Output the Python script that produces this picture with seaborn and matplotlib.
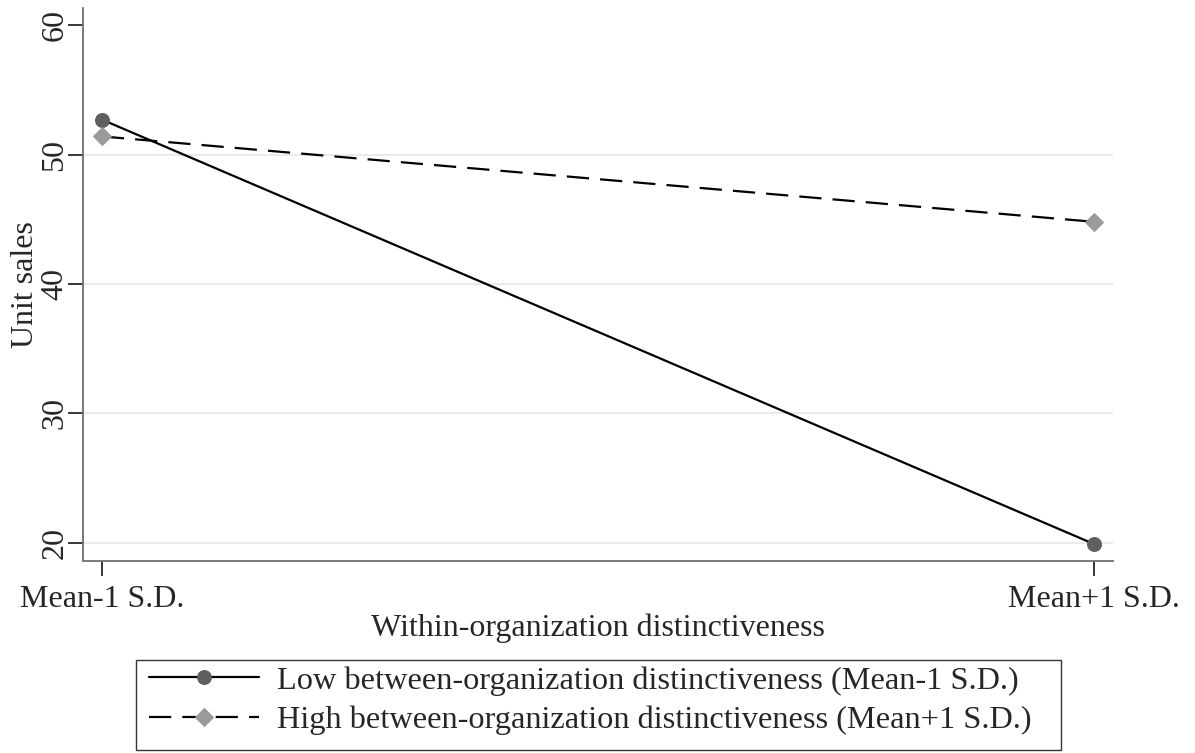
import pandas as pd
import matplotlib
matplotlib.use("Agg")
import matplotlib.pyplot as plt
from matplotlib.patches import Rectangle
import seaborn as sns

# Data
x_labels = ["Mean-1 S.D.", "Mean+1 S.D."]
x_pos = [0, 1]
low_sales = [52.7, 19.9]
high_sales = [51.4, 44.8]
low_label = "Low between-organization distinctiveness (Mean-1 S.D.)"
high_label = "High between-organization distinctiveness (Mean+1 S.D.)"

sns.set_style("white")
plt.rcParams['font.family'] = ['Liberation Serif', 'DejaVu Serif']

df_low = pd.DataFrame({'x': x_pos, 'sales': low_sales})
df_high = pd.DataFrame({'x': x_pos, 'sales': high_sales})

W, H = 1195, 753
fig = plt.figure(figsize=(W / 100, H / 100), dpi=100)
ax = fig.add_axes([0.0695, 0.255, 0.862, 0.734])

for v in [20, 30, 40, 50]:
    ax.axhline(v, color='#e6e6e6', linewidth=1.2, zorder=0)

sns.lineplot(data=df_low, x='x', y='sales', ax=ax, color='black', linewidth=1.6,
             marker='o', markersize=10, markerfacecolor='#5f5f5f',
             markeredgecolor='#5f5f5f', label=low_label, zorder=3)
sns.lineplot(data=df_high, x='x', y='sales', ax=ax, color='black', linewidth=1.6,
             linestyle=(0, (10, 5)), marker='D', markersize=9,
             markerfacecolor='#9a9a9a', markeredgecolor='#9a9a9a',
             label=high_label, zorder=3)

fs = 23
ax.set_xlim(-0.019, 1.019)
ax.set_ylim(18.6, 61.3)
ax.set_xticks(x_pos)
ax.set_xticklabels(x_labels, fontsize=fs)
ax.set_yticks([20, 30, 40, 50, 60])
ax.set_yticklabels(['20', '30', '40', '50', '60'], rotation=90, va='center', fontsize=fs)
ax.set_xlabel('Within-organization distinctiveness', fontsize=fs, labelpad=0)
ax.set_ylabel('Unit sales', fontsize=fs, labelpad=0)

for s in ['top', 'right']:
    ax.spines[s].set_visible(False)
for s in ['left', 'bottom']:
    ax.spines[s].set_color('#707070')
    ax.spines[s].set_linewidth(1.3)
ax.tick_params(axis='both', which='major', direction='out', length=11, width=1.1,
               color='black', bottom=True, left=True)
ax.tick_params(axis='x', pad=6)
ax.tick_params(axis='y', pad=-1)

ax.get_legend().remove()
handles, labels = ax.get_legend_handles_labels()
leg = fig.legend(handles, labels, loc='upper left',
                 bbox_to_anchor=(149 / W, 1 - 666 / H),
                 fontsize=23.3, frameon=False, handlelength=3.4,
                 handletextpad=0.55, borderpad=0, borderaxespad=0,
                 labelspacing=0.3)

# legend frame with Stata-like uneven padding
fig.canvas.draw()
bb = leg.get_window_extent(fig.canvas.get_renderer())
x0, x1 = bb.x0 - 13, bb.x1 + 30
y0, y1 = bb.y0 - 15, bb.y1 + 6
fig.patches.append(Rectangle((x0 / W, y0 / H), (x1 - x0) / W, (y1 - y0) / H,
                             transform=fig.transFigure, fill=False,
                             edgecolor='#333333', linewidth=1.0))

fig.savefig('out.png', dpi=100)
